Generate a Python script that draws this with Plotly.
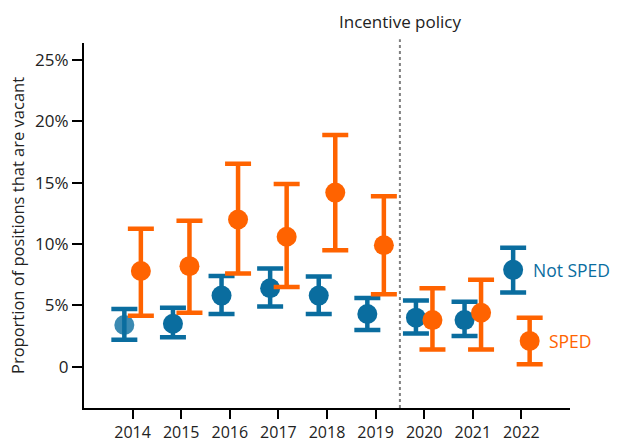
import plotly.graph_objects as go

# School years
years = [2014, 2015, 2016, 2017, 2018, 2019, 2020, 2021, 2022]

# Vacancy rates (%) with confidence bounds
not_sped = [3.4, 3.5, 5.8, 6.4, 5.8, 4.3, 4.0, 3.8, 7.9]
not_sped_hi = [4.7, 4.8, 7.4, 8.0, 7.35, 5.6, 5.4, 5.3, 9.7]
not_sped_lo = [2.2, 2.4, 4.3, 4.9, 4.3, 3.0, 2.7, 2.5, 6.05]

sped = [7.8, 8.2, 12.0, 10.6, 14.2, 9.9, 3.8, 4.4, 2.1]
sped_hi = [11.25, 11.9, 16.55, 14.9, 18.9, 13.9, 6.4, 7.1, 4.0]
sped_lo = [4.15, 4.4, 7.6, 6.5, 9.5, 5.9, 1.4, 1.4, 0.2]

y_ticks = [0, 5, 10, 15, 20, 25]
y_tick_text = ["0", "5%", "10%", "15%", "20%", "25%"]

policy_year = 2019.5

BLUE = "#0a6d9f"
ORANGE = "#ff6300"
FONT = "Open Sans"
OFFSET = 0.17

fig = go.Figure()


def add_series(values, hi, lo, color, shift, opacity):
    fig.add_trace(go.Scatter(
        x=[y + shift for y in years],
        y=values,
        mode="markers",
        marker=dict(color=color, size=20, opacity=opacity, line=dict(width=0)),
        error_y=dict(
            type="data",
            symmetric=False,
            array=[h - v for h, v in zip(hi, values)],
            arrayminus=[v - l for v, l in zip(values, lo)],
            color=color,
            thickness=4.5,
            width=13,
        ),
        showlegend=False,
        hoverinfo="skip",
    ))


add_series(not_sped, not_sped_hi, not_sped_lo, BLUE, -OFFSET,
           [0.8] + [1] * (len(years) - 1))
add_series(sped, sped_hi, sped_lo, ORANGE, OFFSET, 1)

# Policy start marker
fig.add_shape(type="line", x0=policy_year, x1=policy_year, xref="x",
              y0=0, y1=1.01, yref="paper",
              line=dict(color="#808080", width=2, dash="dot"))
fig.add_annotation(x=policy_year, y=1, xref="x", yref="paper",
                   yanchor="bottom", yshift=8, showarrow=False,
                   text="Incentive policy",
                   font=dict(family=FONT, size=17, color="#222222"))

# Direct series labels
fig.add_annotation(x=years[-1] + 0.2, y=not_sped[-1], xanchor="left",
                   showarrow=False, text="Not SPED",
                   font=dict(family=FONT, size=17.5, color=BLUE))
fig.add_annotation(x=years[-1] + 0.53, y=sped[-1], xanchor="left",
                   showarrow=False, text="SPED",
                   font=dict(family=FONT, size=17.5, color=ORANGE))

fig.update_layout(
    width=618, height=443,
    margin=dict(l=84, r=48, t=43, b=35),
    plot_bgcolor="white", paper_bgcolor="white",
    font=dict(family=FONT, size=16, color="#222222"),
)
fig.update_xaxes(
    range=[2013, 2023], tickvals=years, ticktext=[str(y) for y in years],
    showgrid=False, zeroline=False, showline=True, linecolor="black",
    linewidth=2, ticks="outside", ticklen=9, tickwidth=2, tickcolor="black",
    tickfont=dict(size=16), automargin=False,
)
fig.update_yaxes(
    range=[-3.37, 26.4], tickvals=y_ticks, ticktext=y_tick_text,
    showgrid=False, zeroline=False, showline=True, linecolor="black",
    linewidth=2, ticks="outside", ticklen=10, tickwidth=2, tickcolor="black",
    tickfont=dict(size=17), automargin=False,
    title=dict(text="Proportion of positions that are vacant",
               font=dict(size=16.5), standoff=6),
)

fig.write_html("out.html")
